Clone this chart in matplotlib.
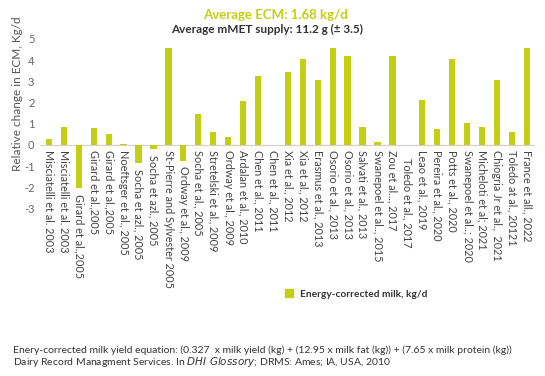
import matplotlib
matplotlib.use('Agg')
import matplotlib.pyplot as plt
from matplotlib.lines import Line2D

plt.rcParams['font.family'] = ['Lato', 'DejaVu Sans']

# Datos
estudios = ['Misciatelli et al. 2003', 'Misciatelli et al. 2003', 'Girard et al.,2005',
            'Girard et al.,2005', 'Girard et al.,2005', 'Noeftsger et al., 2005',
            'Socha et azl., 2005', 'Socha et azl., 2005', 'St-Pierre and Sylvester 2005',
            'Ordway et al., 2009', 'Socha et al., 2005', 'Stretelski et al., 2009',
            'Ordway et al., 2009', 'Ardalan et al., 2010', 'Chen et al., 2011',
            'Chen et al., 2011', 'Xia et al., 2012', 'Xia et al., 2012',
            'Erasmus et al., 2013', 'Osorio et al., 2013', 'Osorio et al., 2013',
            'Salvati et al., 2013', 'Swanepoel et al.., 2015', 'Zou et al..., 2017',
            'Toledo et al., 2017', 'Leao et al., 2019', 'Pereira et al., 2020',
            'Potts et al., 2020', 'Swanepoel et al..; 2020', 'Micheloti et al; 2021',
            'Chiogria Jr et al.,  2021', 'Toledo at al., 20121', 'France et all., 2022']

ecm = [0.28, 0.86, -2.05, 0.79, 0.52, 0.05, -0.87, -0.2, 4.58, -0.74, 1.46, 0.61,
       0.39, 2.06, 3.25, 0.0, 3.46, 4.06, 3.07, 4.58, 4.2, 0.83, 0.14, 4.2, 0.0,
       2.12, 0.74, 4.05, 1.05, 0.83, 3.07, 0.61, 4.58]

yticks = [-3, -2, -1, 0, 1, 2, 3, 4, 5]

verde = '#c4cf14'
gris = '#555555'

fig = plt.figure(figsize=(5.45, 3.76), dpi=100)
ax = fig.add_axes([0.0734, 0.434, 0.9083, 0.4623])

x = range(len(ecm))
ax.bar(x, ecm, width=0.42, color=verde, zorder=2)
ax.axhline(0, color='#d0d0d0', linewidth=0.8, zorder=1)

# Etiquetas de categoría debajo de cada barra (o de su extremo si es negativa)
for i, (nombre, v) in enumerate(zip(estudios, ecm)):
    pad = 0.6 if nombre == 'Toledo et al., 2017' else 0.25
    ax.text(i, min(v, 0) - pad, nombre, rotation=-90, ha='center', va='top',
            fontsize=7.8, color='#444444', clip_on=False)

ax.set_xlim(-0.6, len(ecm) - 0.45)
ax.set_ylim(-3.2, 5)
ax.set_xticks([])
ax.set_yticks(yticks)
ax.set_yticklabels([str(t) for t in yticks])
ax.tick_params(axis='y', length=0, pad=4, labelsize=8, labelcolor='#666666')
for s in ax.spines.values():
    s.set_visible(False)

fig.text(18 / 545, 1 - 94 / 376, 'Relative change in ECM, Kg/d', rotation=90,
         ha='center', va='center', fontsize=8.5, color=gris)

fig.text(275 / 545, 1 - 15 / 376, 'Average ECM: 1.68 kg/d', ha='center', va='center',
         fontsize=9.5, fontweight='bold', color=verde)
fig.text(267 / 545, 1 - 29 / 376, 'Average mMET supply: 11.2 g (± 3.5)', ha='center',
         va='center', fontsize=8.5, fontweight='bold', color='#333333')

# Leyenda
fig.legend(handles=[Line2D([], [], marker='s', linestyle='', markersize=6,
                           color=verde, label='Energy-corrected milk, kg/d')],
           loc='center left', bbox_to_anchor=(270 / 545, 1 - 294 / 376), frameon=False,
           handletextpad=0.05, prop={'size': 7.3, 'weight': 'bold'}, labelcolor='#333333')

fig.text(13 / 545, 1 - 350 / 376,
         'Enery-corrected milk yield equation: (0.327  x milk yield (kg) + (12.95 x milk fat (kg))'
         ' + (7.65 x milk protein (kg))', ha='left', va='center', fontsize=7.5, color='#333333')
fig.text(13 / 545, 1 - 362 / 376,
         'Dairy Record Managment Services. In $\\it{DHI\\ Glossory}$; DRMS: Ames; IA, USA, 2010',
         ha='left', va='center', fontsize=7.5, color='#333333')

fig.savefig('out.png', dpi=100)
